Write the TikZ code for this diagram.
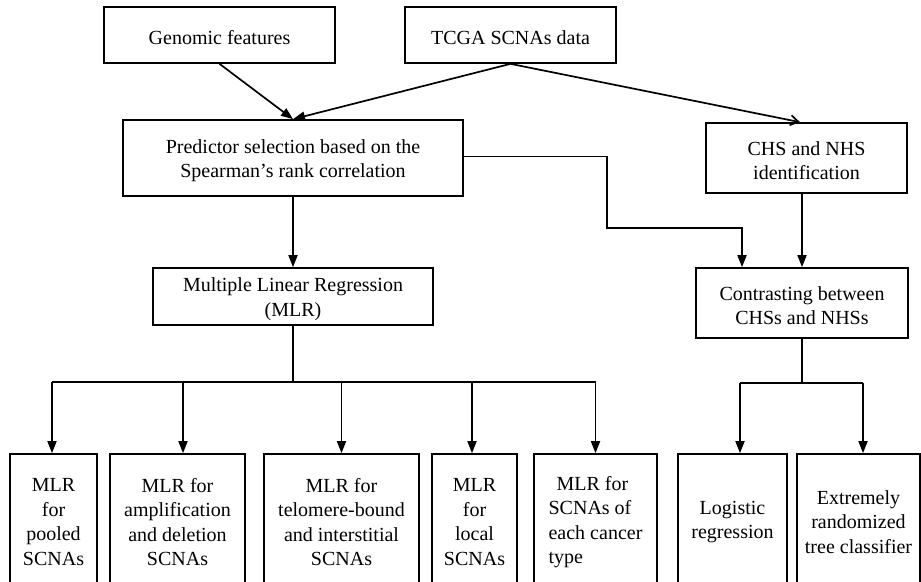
\documentclass[tikz,border=0pt]{standalone}
\usepackage{fontspec}
\setmainfont{Liberation Serif}
\usetikzlibrary{arrows.meta,calc}
\newcommand{\myTop}{\rule{0pt}{19.5pt}}
\begin{document}
\begin{tikzpicture}[x=1pt,y=-1pt,
  box/.style={draw,line width=1.7pt,rectangle,inner sep=0pt,align=center,font=\fontsize{20}{24.5}\selectfont},
  conn/.style={line width=1.7pt,-{Triangle[length=12pt,width=9pt]}},
  plain/.style={line width=1.7pt},
  barb/.style={line width=1.7pt,-{Straight Barb[length=8pt,width=10pt]}}]
\useasboundingbox (0,0) rectangle (921,581);
\clip (0,0) rectangle (921,581);
% top row
\node[box,minimum width=231pt,minimum height=56pt] (gen) at (219.5,35) {\myTop Genomic features};
\node[box,minimum width=211pt,minimum height=56pt] (tcga) at (510.5,35) {\myTop TCGA SCNAs data};
% second row
\node[box,minimum width=340pt,minimum height=76pt] (pred) at (293,158) {\myTop Predictor selection based on the\\Spearman’s rank correlation};
\node[box,minimum width=201pt,minimum height=70pt] (chs) at (806.5,158) {\myTop CHS and NHS\\identification};
% third row
\node[box,minimum width=280pt,minimum height=57pt] (mlr) at (293,296.5) {\myTop Multiple Linear Regression\\(MLR)};
\node[box,minimum width=212pt,minimum height=70pt] (con) at (802,303) {\myTop Contrasting between\\CHSs and NHSs};
% bottom row
\node[box,minimum width=87pt,minimum height=136pt] (pooled) at (53.5,522) {MLR\\for\\pooled\\SCNAs};
\node[box,minimum width=135pt,minimum height=136pt] (amp) at (177.5,522) {MLR for\\amplification\\and deletion\\SCNAs};
\node[box,minimum width=155pt,minimum height=136pt] (telo) at (341.5,522) {MLR for\\telomere-bound\\and interstitial\\SCNAs};
\node[box,minimum width=85pt,minimum height=136pt] (local) at (474.5,522) {MLR\\for\\local\\SCNAs};
\node[box,minimum width=123pt,minimum height=136pt,align=left] (cancer) at (595.5,522) {\hspace{8pt}MLR for\\SCNAs of\\each cancer\\type};
\node[box,minimum width=109pt,minimum height=136pt] (logit) at (732.5,522) {Logistic\\regression};
\node[box,minimum width=123pt,minimum height=136pt] (extr) at (858.5,522) {Extremely\\randomized\\tree classifier};
% connectors top
\draw[conn] (gen.south) -- (pred.north);
\draw[conn] (tcga.south) -- (pred.north);
\draw[barb] (tcga.south) -- ($(chs.north)+(-6.5,0)$);
\coordinate (e1) at (607,228);
\draw[conn] ($(pred.east)+(0,-1.5)$) -| (e1) -| ($(con.north)+(-60,0)$);
\draw[conn] (chs.south -| con.north) -- (con.north);
\draw[conn] (pred.south) -- (mlr.north);
% MLR fan-out
\coordinate (h1) at (293,382);
\draw[plain] (mlr.south) -- (h1);
\draw[plain] ($(pooled.north |- h1)+(-1.5,0)$) -- (cancer.north |- h1);
\draw[conn] ($(pooled.north |- h1)+(-1.5,0)$) -- ($(pooled.north)+(-1.5,0)$);
\draw[conn] ($(amp.north |- h1)+(5.5,0)$) -- ($(amp.north)+(5.5,0)$);
\draw[conn] (telo.north |- h1) -- (telo.north);
\draw[conn] ($(local.north |- h1)+(-2.5,0)$) -- ($(local.north)+(-2.5,0)$);
\draw[conn] (cancer.north |- h1) -- (cancer.north);
% right fan-out
\coordinate (h2) at (802,383);
\draw[plain] (con.south) -- (h2);
\draw[plain] ($(logit.north |- h2)+(7.5,0)$) -- ($(extr.north |- h2)+(4.5,0)$);
\draw[conn] ($(logit.north |- h2)+(7.5,0)$) -- ($(logit.north)+(7.5,0)$);
\draw[conn] ($(extr.north |- h2)+(4.5,0)$) -- ($(extr.north)+(4.5,0)$);
\end{tikzpicture}
\end{document}
